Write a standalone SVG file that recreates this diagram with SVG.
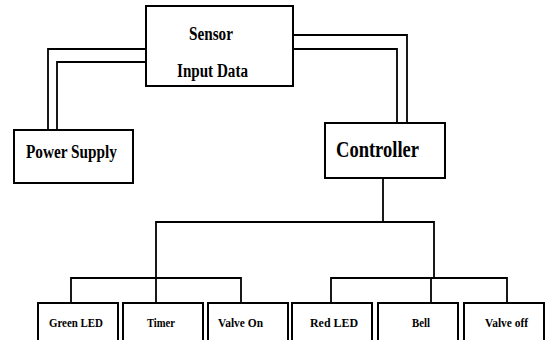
<svg xmlns="http://www.w3.org/2000/svg" width="545" height="340" viewBox="0 0 545 340">
<style>
.box{fill:#fff;stroke:#000;stroke-width:2}
.ln{fill:none;stroke:#000;stroke-width:1.8}
text{font-family:"Liberation Serif","Times New Roman",serif;font-weight:bold;fill:#000}
.s{font-size:13px}
.m{font-size:18px}
.l{font-size:24px}
</style>
<rect width="545" height="340" fill="#fff"/>
<g id="connectors">
<polyline class="ln" points="146,49 48,49 48,130"/>
<polyline class="ln" points="146,62 57,62 57,130"/>
<polyline class="ln" points="293,35 407,35 407,123"/>
<polyline class="ln" points="293,49 397,49 397,123"/>
<line class="ln" x1="383" y1="178" x2="383" y2="222"/>
<polyline class="ln" points="156,303 156,222 434,222 434,278"/>
<polyline class="ln" points="71,303 71,278 241,278 241,303"/>
<polyline class="ln" points="331,303 331,278 507,278 507,303"/>
<line class="ln" x1="431" y1="278" x2="431" y2="303"/>
</g>
<g id="sensor">
<rect class="box" x="146" y="6" width="147" height="80"/>
<text class="m" x="189" y="40" textLength="44" lengthAdjust="spacingAndGlyphs">Sensor</text>
<text class="m" x="177" y="77" textLength="71" lengthAdjust="spacingAndGlyphs">Input Data</text>
</g>
<g id="power">
<rect class="box" x="14" y="130" width="119" height="53"/>
<text class="m" x="26" y="158" textLength="91" lengthAdjust="spacingAndGlyphs">Power Supply</text>
</g>
<g id="controller">
<rect class="box" x="325" y="123" width="120" height="55"/>
<text class="l" x="336" y="157" textLength="83" lengthAdjust="spacingAndGlyphs">Controller</text>
</g>
<g id="green">
<rect class="box" x="38" y="303" width="80" height="45"/>
<text class="s" x="49" y="327" textLength="54" lengthAdjust="spacingAndGlyphs">Green LED</text>
</g>
<g id="timer">
<rect class="box" x="123" y="303" width="80" height="45"/>
<text class="s" x="147" y="327" textLength="28" lengthAdjust="spacingAndGlyphs">Timer</text>
</g>
<g id="valveon">
<rect class="box" x="208" y="303" width="80" height="45"/>
<text class="s" x="218" y="327" textLength="45" lengthAdjust="spacingAndGlyphs">Valve On</text>
</g>
<g id="red">
<rect class="box" x="292" y="303" width="80" height="45"/>
<text class="s" x="310" y="327" textLength="48" lengthAdjust="spacingAndGlyphs">Red  LED</text>
</g>
<g id="bell">
<rect class="box" x="378" y="303" width="80" height="45"/>
<text class="s" x="412" y="327" textLength="18" lengthAdjust="spacingAndGlyphs">Bell</text>
</g>
<g id="valveoff">
<rect class="box" x="464" y="303" width="80" height="45"/>
<text class="s" x="485" y="327" textLength="43" lengthAdjust="spacingAndGlyphs">Valve off</text>
</g>
</svg>
